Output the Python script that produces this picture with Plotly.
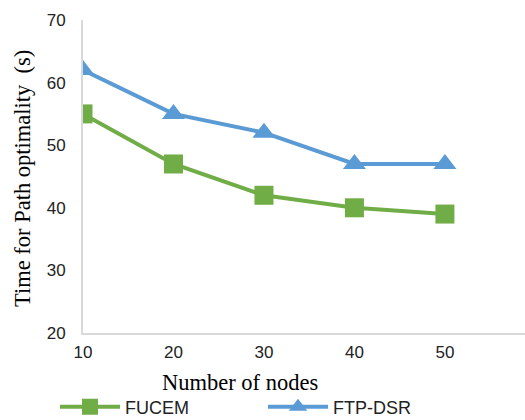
import plotly.graph_objects as go

nodes = [10, 20, 30, 40, 50]
fucem = [55, 47, 42, 40, 39]
ftp_dsr = [62, 55, 52, 47, 47]
x_ticks = [10, 20, 30, 40, 50]
y_ticks = [20, 30, 40, 50, 60, 70]

L, R, T, B = 83, 0, 20, 87
W, H = 525, 420
pw = W - L - R
ph = H - T - B

fig = go.Figure()
fig.add_trace(go.Scatter(x=nodes, y=fucem, name="FUCEM", mode="lines+markers",
                         line=dict(color="#70ad47", width=4),
                         marker=dict(symbol="square", size=19, color="#70ad47")))
fig.add_trace(go.Scatter(x=nodes, y=ftp_dsr, name="FTP-DSR", mode="lines+markers",
                         line=dict(color="#5b9bd5", width=4),
                         marker=dict(symbol="triangle-up", size=20, color="#5b9bd5")))

fig.update_layout(
    width=W, height=H, margin=dict(l=L, r=R, t=T, b=B, autoexpand=False),
    plot_bgcolor="white", paper_bgcolor="white",
    font=dict(family="Liberation Sans", size=17, color="#222"),
    xaxis=dict(range=[10, 58.85], tickvals=x_ticks, ticktext=[str(v) for v in x_ticks],
               showgrid=False, zeroline=False, showline=True, linecolor="#d9d9d9", linewidth=2,
               ticks="", ticklabelstandoff=3),
    yaxis=dict(range=[20, 70], tickvals=y_ticks, showgrid=False, zeroline=False,
               showline=True, linecolor="#d9d9d9", linewidth=2, ticks="", ticklabelstandoff=12),
    showlegend=True,
    legend=dict(orientation="h", x=(55 - L) / pw, xanchor="left", y=-(407 - T - ph) / ph,
                yanchor="middle", font=dict(size=18, family="Liberation Sans", color="#222"),
                entrywidth=133, itemwidth=60, bgcolor="rgba(0,0,0,0)"),
)
fig.add_annotation(text="Time for Path optimality  (s)", textangle=-90, showarrow=False,
                   xref="paper", yref="paper", x=(22 - L) / pw, y=(333 - 179) / ph,
                   xanchor="center", yanchor="middle",
                   font=dict(family="Liberation Serif", size=22.5, color="#000"))
fig.add_annotation(text="Number of nodes", showarrow=False, xref="paper", yref="paper",
                   x=(240 - L) / pw, y=-(382 - 333) / ph, xanchor="center", yanchor="middle",
                   font=dict(family="Liberation Serif", size=22.5, color="#000"))
fig.write_html("out.html")
